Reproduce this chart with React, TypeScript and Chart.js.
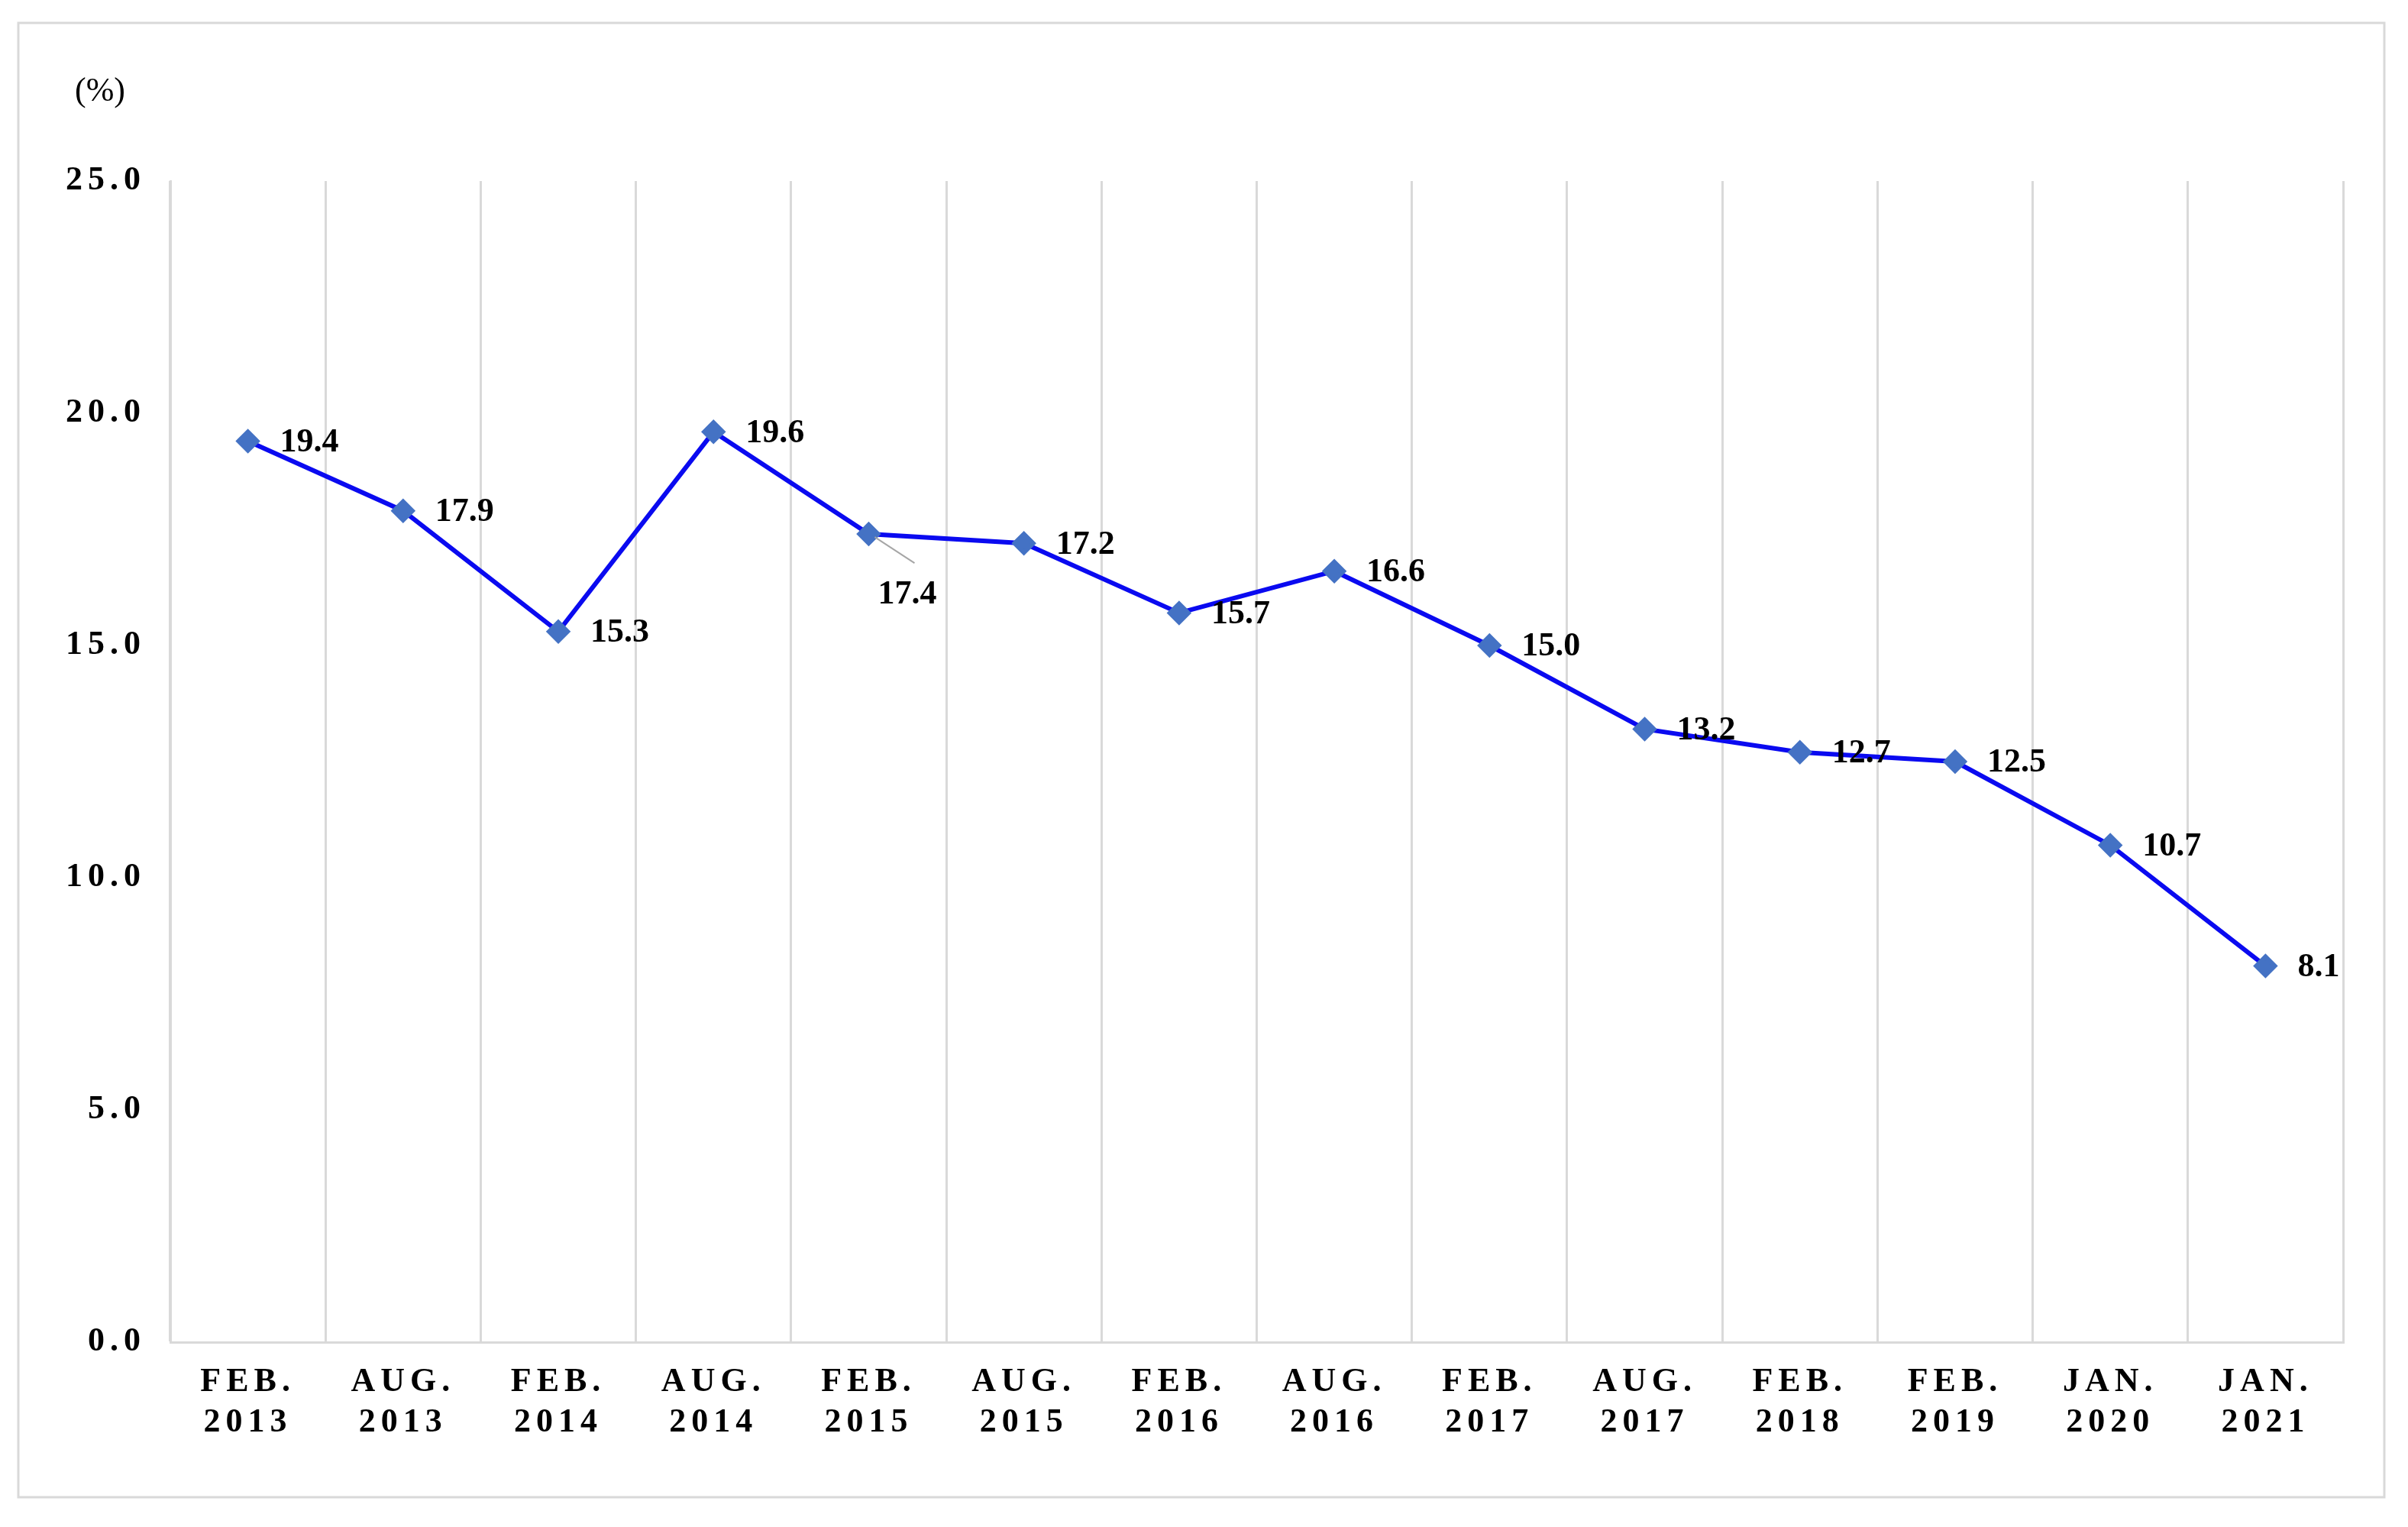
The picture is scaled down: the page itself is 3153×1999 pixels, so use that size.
import React, { useEffect, useRef } from "react";
import { Chart, registerables } from "chart.js";
Chart.register(...registerables);

const categories = [["FEB.","2013"],["AUG.","2013"],["FEB.","2014"],["AUG.","2014"],["FEB.","2015"],["AUG.","2015"],["FEB.","2016"],["AUG.","2016"],["FEB.","2017"],["AUG.","2017"],["FEB.","2018"],["FEB.","2019"],["JAN.","2020"],["JAN.","2021"]];
const values = [19.4,17.9,15.3,19.6,17.4,17.2,15.7,16.6,15.0,13.2,12.7,12.5,10.7,8.1];
const yTicks = [0,5,10,15,20,25];

const FONT = "'Liberation Serif', 'DejaVu Serif', serif";

export default function App() {
  const ref = useRef<HTMLCanvasElement>(null);
  useEffect(() => {
    const extras = {
      id: "extras",
      beforeDraw(c: any) {
        const ctx = c.ctx;
        ctx.save();
        ctx.fillStyle = "#fff";
        ctx.fillRect(0, 0, c.width, c.height);
        ctx.strokeStyle = "#d9d9d9";
        ctx.lineWidth = 3;
        ctx.strokeRect(16, 22, 3098, 1930);
        ctx.fillStyle = "#000";
        ctx.font = `44px ${FONT}`;
        ctx.textAlign = "center";
        ctx.textBaseline = "middle";
        ctx.fillText("(%)", 123, 112);
        ctx.restore();
        ctx.letterSpacing = "7px";
      },
      beforeDatasetsDraw(c: any) {
        c.ctx.letterSpacing = "0px";
      },
      afterDatasetsDraw(c: any) {
        const ctx = c.ctx;
        const meta = c.getDatasetMeta(0);
        ctx.save();
        ctx.fillStyle = "#000";
        ctx.font = `bold 44px ${FONT}`;
        ctx.textBaseline = "middle";
        ctx.textAlign = "left";
        meta.data.forEach((p: any, i: number) => {
          let x = p.x + 42, y = p.y + 2;
          if (i === 4) {
            ctx.strokeStyle = "#a6a6a6";
            ctx.lineWidth = 2;
            ctx.beginPath();
            ctx.moveTo(p.x + 8, p.y + 4);
            ctx.lineTo(p.x + 60, p.y + 38);
            ctx.stroke();
            x = p.x + 12; y = p.y + 80;
          }
          ctx.fillText(values[i].toFixed(1), x, y);
        });
        ctx.restore();
      },
    };
    const chart = new Chart(ref.current!, {
      type: "line",
      data: {
        labels: categories,
        datasets: [{
          data: values,
          borderColor: "#0a0af0",
          borderWidth: 6,
          pointStyle: "rectRot",
          pointRadius: 12,
          pointBackgroundColor: "#4472c4",
          pointBorderColor: "#4472c4",
          tension: 0,
        }],
      },
      options: {
        animation: false,
        responsive: false,
        devicePixelRatio: 1,
        layout: { padding: { left: 0, right: 77, top: 229, bottom: 0 } },
        plugins: { legend: { display: false }, tooltip: { enabled: false } },
        scales: {
          x: {
            offset: true,
            grid: { offset: true, color: "#d9d9d9", lineWidth: 3, drawTicks: false },
            border: { color: "#d9d9d9", width: 3 },
            ticks: { color: "#000", font: { family: FONT, size: 44, weight: "bold" }, padding: 26, maxRotation: 0, autoSkip: false },
            afterFit(s: any) { s.height = 234; },
          },
          y: {
            min: 0, max: 25,
            afterBuildTicks(s: any) { s.ticks = yTicks.map((v) => ({ value: v })); },
            grid: { display: false },
            border: { color: "#d9d9d9", width: 3 },
            ticks: { color: "#000", font: { family: FONT, size: 44, weight: "bold" }, padding: 24, callback: (v: any) => Number(v).toFixed(1) },
            afterFit(s: any) { s.width = 215; },
          },
        },
      },
      plugins: [extras],
    });
    return () => chart.destroy();
  }, []);
  return <canvas ref={ref} width={3137} height={1983} style={{ display: "block" }} />;
}
